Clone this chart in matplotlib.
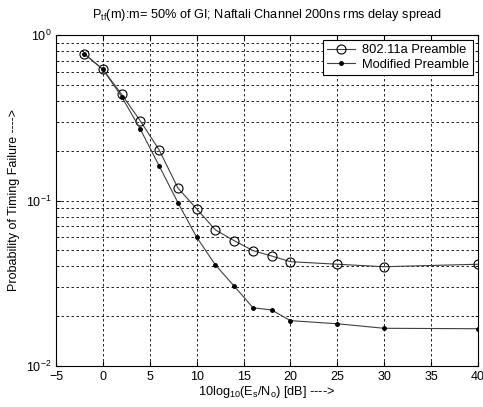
'''
Probability of timing failure vs Es/No, Naftali channel.
'''

# Modules
from matplotlib import pyplot as plt
from matplotlib.ticker import LogLocator, NullFormatter

plt.rcParams['font.family'] = ['Liberation Sans', 'DejaVu Sans']
plt.rcParams['mathtext.default'] = 'regular'

snr_db = [-2, 0, 2, 4, 6, 8, 10, 12, 14, 16, 18, 20, 25, 30, 40]
p_std = [0.77, 0.62, 0.438, 0.302, 0.202, 0.119, 0.089, 0.0664, 0.0572,
         0.0498, 0.0462, 0.0427, 0.0412, 0.0398, 0.0412]
p_mod = [0.77, 0.62, 0.424, 0.269, 0.162, 0.097, 0.060, 0.0408, 0.0304,
         0.0225, 0.0218, 0.0188, 0.0180, 0.0169, 0.0168]


def main():

    figure = plt.figure(figsize=(4.83, 4.07), dpi=100)
    ax = figure.add_axes([0.116, 0.1007, 0.8736, 0.8133])

    ax.semilogy(snr_db, p_std, color='#404040', linewidth=0.8, marker='o',
                markersize=6.5, markerfacecolor='none',
                markeredgecolor='black', markeredgewidth=0.8,
                label='802.11a Preamble')
    ax.semilogy(snr_db, p_mod, color='#404040', linewidth=0.8, marker='.',
                markersize=5, markerfacecolor='black', markeredgecolor='black',
                label='Modified Preamble')

    ax.set_xlim(-5, 40)
    ax.set_ylim(1e-2, 1)
    ax.set_xticks(range(-5, 41, 5))
    ax.yaxis.set_minor_locator(LogLocator(base=10, subs=range(2, 10)))
    ax.yaxis.set_minor_formatter(NullFormatter())
    ax.grid(True, which='major', linestyle=(0, (3, 3)), color='black',
            linewidth=0.6)
    ax.grid(True, which='minor', axis='y', linestyle=(0, (3, 3)),
            color='black', linewidth=0.6)
    ax.tick_params(which='both', direction='in', top=True, right=True,
                   labelsize=9)
    ax.tick_params(which='minor', length=2)

    ax.set_title(r'P$_{tf}$(m):m= 50% of GI; Naftali Channel 200ns rms '
                 'delay spread', fontsize=9.2, pad=12)
    ax.set_xlabel(r'10log$_{10}$(E$_s$/N$_o$) [dB] ---->', fontsize=9.2,
                  labelpad=1)
    ax.set_ylabel('Probability of Timing Failure ---->', fontsize=9)

    leg = ax.legend(loc='upper right', fontsize=9.3, fancybox=False,
                    framealpha=1, edgecolor='black', borderaxespad=0.4,
                    handlelength=2.2, handletextpad=0.5, labelspacing=0.2,
                    borderpad=0.3)
    leg.get_frame().set_linewidth(0.8)

    plt.savefig('out.png', dpi=100)


if __name__ == "__main__":
    main()
